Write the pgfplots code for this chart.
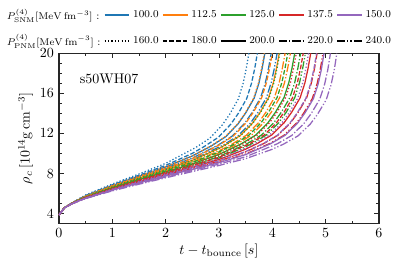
\documentclass[border=0pt]{standalone}
\usepackage{pgfplots}
\pgfplotsset{compat=1.18}
\definecolor{cB}{HTML}{1F77B4}
\definecolor{cO}{HTML}{FF7F0E}
\definecolor{cG}{HTML}{2CA02C}
\definecolor{cR}{HTML}{D62728}
\definecolor{cP}{HTML}{9467BD}
\tikzset{
  pA/.style={line width=0.9pt, dash pattern=on 0.9pt off 1.5pt},
  pB/.style={line width=0.9pt, dash pattern=on 3.3pt off 1.45pt},
  pC/.style={line width=0.9pt, solid},
  pD/.style={line width=0.9pt, dash pattern=on 5.8pt off 1.45pt on 0.9pt off 1.45pt},
  pE/.style={line width=0.9pt, dash pattern=on 5.8pt off 1.45pt on 0.9pt off 1.45pt on 0.9pt off 1.45pt},
}
\begin{document}
\begin{tikzpicture}
\begin{axis}[
  scale only axis, width=228.6pt, height=121.6pt,
  xmin=0, xmax=6, ymin=3, ymax=20,
  xtick={0,1,2,3,4,5,6}, minor x tick num=1,
  ytick={4,8,12,16,20}, minor ytick={3,...,20},
  tick align=inside, major tick length=3.5pt, minor tick length=2pt,
  every tick/.style={black!85, line width=0.6pt},
  axis line style={black!85, line width=1.1pt},
  xlabel={$t - t_{\mathrm{bounce}}\,[s]$},
  ylabel={$\rho_c\,[10^{14}\mathrm{g\,cm^{-3}}]$},
  xlabel style={yshift=2pt},
  ylabel style={yshift=-2pt},
  legend columns=6,
  legend cell align=left,
  legend style={at={(rel axis cs:-0.172,1.018)}, anchor=south west, draw=none, fill=none, inner sep=0pt,
    font=\fontsize{7.5}{8.5}\selectfont,
    row sep=5.5pt,
    nodes={inner sep=2pt},
    /tikz/every even column/.append style={column sep=0.3pt},
    /tikz/every odd column/.append style={column sep=0pt}},
  legend image code/.code={\draw[#1] (0cm,0cm) -- (0.62cm,0cm);},
]
\addlegendimage{empty legend}\addlegendentry{$P^{(4)}_{\mathrm{SNM}}[\mathrm{MeV\,fm^{-3}}]$ :}
\addlegendimage{cB, line width=1.4pt}\addlegendentry{100.0}
\addlegendimage{cO, line width=1.4pt}\addlegendentry{112.5}
\addlegendimage{cG, line width=1.4pt}\addlegendentry{125.0}
\addlegendimage{cR, line width=1.4pt}\addlegendentry{137.5}
\addlegendimage{cP, line width=1.4pt}\addlegendentry{150.0}
\addlegendimage{empty legend}\addlegendentry{$P^{(4)}_{\mathrm{PNM}}[\mathrm{MeV\,fm^{-3}}]$ :}
\addlegendimage{black, pA, line width=1.4pt}\addlegendentry{160.0}
\addlegendimage{black, pB, line width=1.4pt}\addlegendentry{180.0}
\addlegendimage{black, pC, line width=1.4pt}\addlegendentry{200.0}
\addlegendimage{black, pD, line width=1.4pt}\addlegendentry{220.0}
\addlegendimage{black, pE, line width=1.4pt}\addlegendentry{240.0}

% blue (100.0)
\addplot[cB, pA, forget plot] coordinates {(0,3.85)(0.1,4.59)(0.25,5.09)(0.5,5.86)(1,6.95)(1.5,7.95)(2,9.01)(2.56,10.58)(2.83,11.53)(3.06,12.83)(3.2,13.91)(3.36,15.42)(3.45,16.94)(3.51,18.42)(3.56,20)};
\addplot[cB, pB, forget plot] coordinates {(0,3.85)(0.1,4.58)(0.25,5.08)(0.5,5.80)(1,6.87)(1.5,7.82)(2,8.81)(2.5,10.01)(2.72,10.68)(2.99,11.62)(3.22,12.91)(3.36,13.98)(3.52,15.48)(3.61,17.00)(3.67,18.47)(3.72,20)};
\addplot[cB, pC, forget plot] coordinates {(0,3.85)(0.1,4.58)(0.25,5.07)(0.5,5.76)(1,6.80)(1.5,7.73)(2,8.65)(2.5,9.75)(2.86,10.76)(3.13,11.69)(3.36,12.97)(3.5,14.04)(3.66,15.53)(3.75,17.04)(3.81,18.51)(3.86,20)};
\addplot[cB, pD, forget plot] coordinates {(0,3.85)(0.1,4.57)(0.25,5.06)(0.5,5.73)(1,6.74)(1.5,7.67)(2,8.53)(2.5,9.53)(2.98,10.82)(3.25,11.74)(3.48,13.01)(3.62,14.07)(3.78,15.56)(3.87,17.06)(3.93,18.53)(3.98,20)};
\addplot[cB, pE, forget plot] coordinates {(0,3.85)(0.1,4.57)(0.25,5.05)(0.5,5.69)(1,6.69)(1.5,7.58)(2,8.43)(2.5,9.36)(3.09,10.87)(3.36,11.77)(3.59,13.03)(3.73,14.09)(3.89,15.57)(3.98,17.08)(4.04,18.54)(4.09,20)};
% orange (112.5)
\addplot[cO, pA, forget plot] coordinates {(0,3.85)(0.1,4.58)(0.25,5.07)(0.5,5.76)(1,6.81)(1.5,7.73)(2,8.67)(2.5,9.77)(2.85,10.76)(3.12,11.69)(3.35,12.96)(3.49,14.03)(3.65,15.53)(3.74,17.04)(3.8,18.51)(3.85,20)};
\addplot[cO, pB, forget plot] coordinates {(0,3.85)(0.1,4.57)(0.25,5.06)(0.5,5.72)(1,6.74)(1.5,7.64)(2,8.51)(2.5,9.50)(3,10.83)(3.27,11.75)(3.5,13.01)(3.64,14.08)(3.8,15.56)(3.89,17.07)(3.95,18.54)(4,20)};
\addplot[cO, pC, forget plot] coordinates {(0,3.85)(0.1,4.57)(0.25,5.05)(0.5,5.68)(1,6.67)(1.5,7.55)(2,8.39)(2.5,9.31)(3,10.50)(3.13,10.89)(3.4,11.79)(3.63,13.04)(3.77,14.10)(3.93,15.58)(4.02,17.08)(4.08,18.55)(4.13,20)};
\addplot[cO, pD, forget plot] coordinates {(0,3.85)(0.1,4.57)(0.25,5.04)(0.5,5.66)(1,6.62)(1.5,7.49)(2,8.31)(2.5,9.16)(3,10.26)(3.24,10.92)(3.51,11.81)(3.74,13.06)(3.88,14.11)(4.04,15.59)(4.13,17.08)(4.19,18.55)(4.24,20)};
\addplot[cO, pE, forget plot] coordinates {(0,3.85)(0.1,4.57)(0.25,5.04)(0.5,5.63)(1,6.58)(1.5,7.43)(2,8.22)(2.5,9.04)(3,10.05)(3.34,10.95)(3.61,11.83)(3.84,13.07)(3.98,14.12)(4.14,15.59)(4.23,17.08)(4.29,18.55)(4.34,20)};
% green (125.0)
\addplot[cG, pA, forget plot] coordinates {(0,3.85)(0.1,4.57)(0.25,5.05)(0.5,5.68)(1,6.67)(1.5,7.55)(2,8.39)(2.5,9.29)(3,10.48)(3.14,10.89)(3.41,11.79)(3.64,13.05)(3.78,14.10)(3.94,15.58)(4.03,17.08)(4.09,18.55)(4.14,20)};
\addplot[cG, pB, forget plot] coordinates {(0,3.85)(0.1,4.57)(0.25,5.04)(0.5,5.64)(1,6.60)(1.5,7.45)(2,8.26)(2.5,9.10)(3,10.15)(3.29,10.94)(3.56,11.82)(3.79,13.07)(3.93,14.12)(4.09,15.59)(4.18,17.09)(4.24,18.55)(4.29,20)};
\addplot[cG, pC, forget plot] coordinates {(0,3.85)(0.1,4.56)(0.25,5.03)(0.5,5.61)(1,6.55)(1.5,7.38)(2,8.16)(2.5,8.95)(3,9.90)(3.42,10.97)(3.69,11.84)(3.92,13.08)(4.06,14.12)(4.22,15.59)(4.31,17.08)(4.37,18.54)(4.42,20)};
\addplot[cG, pD, forget plot] coordinates {(0,3.85)(0.1,4.56)(0.25,5.03)(0.5,5.60)(1,6.50)(1.5,7.31)(2,8.10)(2.5,8.83)(3,9.69)(3.53,10.99)(3.8,11.85)(4.03,13.08)(4.17,14.12)(4.33,15.58)(4.42,17.07)(4.48,18.53)(4.53,20)};
\addplot[cG, pE, forget plot] coordinates {(0,3.85)(0.1,4.56)(0.25,5.02)(0.5,5.58)(1,6.46)(1.5,7.26)(2,8.01)(2.5,8.74)(3,9.55)(3.5,10.66)(3.62,10.99)(3.89,11.85)(4.12,13.07)(4.26,14.11)(4.42,15.56)(4.51,17.05)(4.57,18.51)(4.62,20)};
% red (137.5)
\addplot[cR, pA, forget plot] coordinates {(0,3.85)(0.1,4.56)(0.25,5.03)(0.5,5.61)(1,6.53)(1.5,7.36)(2,8.14)(2.5,8.92)(3,9.85)(3.45,10.97)(3.72,11.85)(3.95,13.08)(4.09,14.12)(4.25,15.59)(4.34,17.08)(4.4,18.54)(4.45,20)};
\addplot[cR, pB, forget plot] coordinates {(0,3.85)(0.1,4.56)(0.25,5.02)(0.5,5.59)(1,6.48)(1.5,7.28)(2,8.04)(2.5,8.77)(3,9.62)(3.58,10.99)(3.85,11.85)(4.08,13.08)(4.22,14.11)(4.38,15.57)(4.47,17.06)(4.53,18.52)(4.58,20)};
\addplot[cR, pC, forget plot] coordinates {(0,3.85)(0.1,4.56)(0.25,5.01)(0.5,5.56)(1,6.43)(1.5,7.20)(2,7.93)(2.5,8.63)(3,9.40)(3.5,10.43)(3.72,11.00)(3.99,11.85)(4.22,13.06)(4.36,14.09)(4.52,15.54)(4.61,17.02)(4.67,18.48)(4.72,20)};
\addplot[cR, pD, forget plot] coordinates {(0,3.85)(0.1,4.55)(0.25,5.00)(0.5,5.55)(1,6.39)(1.5,7.13)(2,7.84)(2.5,8.52)(3,9.24)(3.5,10.16)(3.84,10.99)(4.11,11.84)(4.34,13.04)(4.48,14.07)(4.64,15.51)(4.73,16.99)(4.79,18.44)(4.84,20)};
\addplot[cR, pE, forget plot] coordinates {(0,3.85)(0.1,4.55)(0.25,5.00)(0.5,5.54)(1,6.35)(1.5,7.06)(2,7.76)(2.5,8.42)(3,9.11)(3.5,9.94)(3.95,10.99)(4.22,11.82)(4.45,13.02)(4.59,14.04)(4.75,15.48)(4.84,16.95)(4.9,18.41)(4.95,20)};
% purple (150.0)
\addplot[cP, pA, forget plot] coordinates {(0,3.85)(0.1,4.56)(0.25,5.02)(0.5,5.57)(1,6.44)(1.5,7.22)(2,7.96)(2.5,8.68)(3,9.47)(3.5,10.52)(3.68,11.00)(3.95,11.85)(4.18,13.07)(4.32,14.10)(4.48,15.55)(4.57,17.04)(4.63,18.49)(4.68,20)};
\addplot[cP, pB, forget plot] coordinates {(0,3.85)(0.1,4.55)(0.25,5.01)(0.5,5.55)(1,6.39)(1.5,7.13)(2,7.85)(2.5,8.56)(3,9.26)(3.5,10.19)(3.83,10.99)(4.1,11.83)(4.33,13.04)(4.47,14.07)(4.63,15.51)(4.72,16.99)(4.78,18.44)(4.83,20)};
\addplot[cP, pC, forget plot] coordinates {(0,3.85)(0.1,4.55)(0.25,5.00)(0.5,5.53)(1,6.34)(1.5,7.06)(2,7.75)(2.5,8.41)(3,9.08)(3.5,9.89)(3.97,10.98)(4.24,11.81)(4.47,13.01)(4.61,14.03)(4.77,15.47)(4.86,16.94)(4.92,18.39)(4.97,20)};
\addplot[cP, pD, forget plot] coordinates {(0,3.85)(0.1,4.55)(0.25,4.99)(0.5,5.52)(1,6.30)(1.5,6.99)(2,7.65)(2.5,8.29)(3,8.94)(3.5,9.67)(4.09,10.96)(4.36,11.78)(4.59,12.97)(4.73,13.99)(4.89,15.42)(4.98,16.89)(5.04,18.34)(5.09,20)};
\addplot[cP, pE, forget plot] coordinates {(0,3.85)(0.1,4.54)(0.25,4.98)(0.5,5.50)(1,6.27)(1.5,6.93)(2,7.57)(2.5,8.19)(3,8.80)(3.5,9.48)(4,10.42)(4.21,10.93)(4.48,11.75)(4.71,12.92)(4.85,13.93)(5.01,15.35)(5.1,16.83)(5.16,18.28)(5.21,20)};

\node[anchor=west] at (rel axis cs:0.05,0.85) {s50WH07};
\end{axis}
\pgfresetboundingbox
\path (-42.1pt,-30.5pt) rectangle (242.9pt,159.7pt);
\end{tikzpicture}
\end{document}
